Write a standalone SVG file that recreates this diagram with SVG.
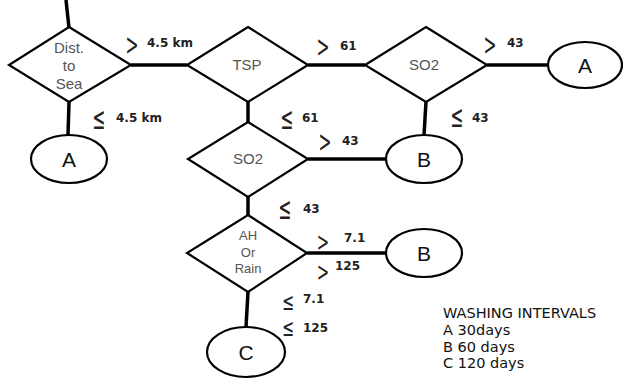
<svg xmlns="http://www.w3.org/2000/svg" width="623" height="382" viewBox="0 0 623 382">
<style>
.d{fill:#fff;stroke:#000;stroke-width:2.2}
.e{fill:#fff;stroke:#000;stroke-width:2.2}
.c{stroke:#000;stroke-width:3.5;fill:none}
.nt{font-family:"Liberation Sans",Arial,sans-serif;font-size:15px;fill:#555;text-anchor:middle}
.et{font-family:"Liberation Sans",Arial,sans-serif;font-size:21px;fill:#111;text-anchor:middle}
.op{font-family:"DejaVu Sans",sans-serif;font-size:31px;fill:#222;text-anchor:middle}
.v{font-family:"DejaVu Sans",sans-serif;font-size:12px;font-weight:bold;fill:#222}
.lg{font-family:"DejaVu Sans",sans-serif;font-size:14.5px;fill:#111}
</style>
<rect width="623" height="382" fill="#fff"/>
<g id="connectors">
<line class="c" x1="66" y1="0" x2="69" y2="28"/>
<line class="c" x1="131" y1="65" x2="187" y2="65"/>
<line class="c" x1="69" y1="102" x2="68" y2="135"/>
<line class="c" x1="308" y1="65" x2="365" y2="65"/>
<line class="c" x1="487" y1="65" x2="548" y2="65"/>
<line class="c" x1="426" y1="102" x2="424" y2="135"/>
<line class="c" x1="248" y1="102" x2="248" y2="122"/>
<line class="c" x1="308" y1="159" x2="386" y2="159"/>
<line class="c" x1="248" y1="197" x2="248" y2="215"/>
<line class="c" x1="307" y1="253" x2="386" y2="253"/>
<line class="c" x1="248" y1="292" x2="246" y2="327"/>
</g>
<g id="dist">
<polygon class="d" points="69,27 131,65 69,102 9,65"/>
<text class="nt" x="69" y="53">Dist.</text>
<text class="nt" x="69" y="71">to</text>
<text class="nt" x="69" y="89">Sea</text>
</g>
<g id="tsp">
<polygon class="d" points="248,27 308,65 248,102 187,65"/>
<text class="nt" x="247" y="70">TSP</text>
</g>
<g id="so2a">
<polygon class="d" points="426,27 487,65 426,102 365,65"/>
<text class="nt" x="424" y="70">SO2</text>
</g>
<g id="so2b">
<polygon class="d" points="248,122 308,159 248,197 188,159"/>
<text class="nt" x="248" y="164">SO2</text>
</g>
<g id="ah">
<polygon class="d" points="248,215 307,253 248,292 187,253"/>
<text class="nt" x="248" y="240" style="font-size:13px">AH</text>
<text class="nt" x="248" y="257" style="font-size:13px">Or</text>
<text class="nt" x="248" y="273" style="font-size:13px">Rain</text>
</g>
<g id="a1">
<ellipse class="e" cx="69" cy="159" rx="38" ry="24"/>
<text class="et" x="69" y="167">A</text>
</g>
<g id="a2">
<ellipse class="e" cx="585" cy="65" rx="37" ry="23"/>
<text class="et" x="585" y="73">A</text>
</g>
<g id="b1">
<ellipse class="e" cx="424" cy="159" rx="38" ry="24"/>
<text class="et" x="424" y="167">B</text>
</g>
<g id="b2">
<ellipse class="e" cx="424" cy="253" rx="38" ry="24"/>
<text class="et" x="424" y="261">B</text>
</g>
<g id="c">
<ellipse class="e" cx="246" cy="352" rx="39" ry="25"/>
<text class="et" x="246" y="360">C</text>
</g>
<g id="labels">
<text class="op" transform="translate(132,0) scale(0.5,1)"><tspan x="0" y="55">&gt;</tspan></text><text class="v" x="147" y="47">4.5 km</text>
<text class="op" transform="translate(99,0) scale(0.5,1)"><tspan x="0" y="129">≤</tspan></text><text class="v" x="116" y="122">4.5 km</text>
<text class="op" transform="translate(323,0) scale(0.5,1)"><tspan x="0" y="57">&gt;</tspan></text><text class="v" x="340" y="50">61</text>
<text class="op" transform="translate(287,0) scale(0.5,1)"><tspan x="0" y="129">≤</tspan></text><text class="v" x="302" y="122">61</text>
<text class="op" transform="translate(490,0) scale(0.5,1)"><tspan x="0" y="55">&gt;</tspan></text><text class="v" x="507" y="47">43</text>
<text class="op" transform="translate(325,0) scale(0.5,1)"><tspan x="0" y="152">&gt;</tspan></text><text class="v" x="342" y="145">43</text>
<text class="op" transform="translate(457,0) scale(0.5,1)"><tspan x="0" y="127">≤</tspan></text><text class="v" x="472" y="122">43</text>
<text class="op" transform="translate(285,0) scale(0.5,1)"><tspan x="0" y="219">≤</tspan></text><text class="v" x="303" y="213">43</text>
<text class="op" transform="translate(323,0) scale(0.55,1)" style="font-size:27px"><tspan x="0" y="251">&gt;</tspan><tspan x="0" y="281">&gt;</tspan></text>
<text class="v" x="344" y="242">7.1</text><text class="v" x="335" y="270">125</text>
<text class="op" transform="translate(288,0) scale(0.6,1)" style="font-size:24px"><tspan x="0" y="310">≤</tspan><tspan x="0" y="336">≤</tspan></text>
<text class="v" x="303" y="303">7.1</text><text class="v" x="303" y="332">125</text>
</g>
<g id="legend">
<text class="lg" x="443" y="318">WASHING  INTERVALS</text>
<text class="lg" x="443" y="335">A 30days</text>
<text class="lg" x="443" y="352">B 60 days</text>
<text class="lg" x="443" y="368">C 120 days</text>
</g>
</svg>
